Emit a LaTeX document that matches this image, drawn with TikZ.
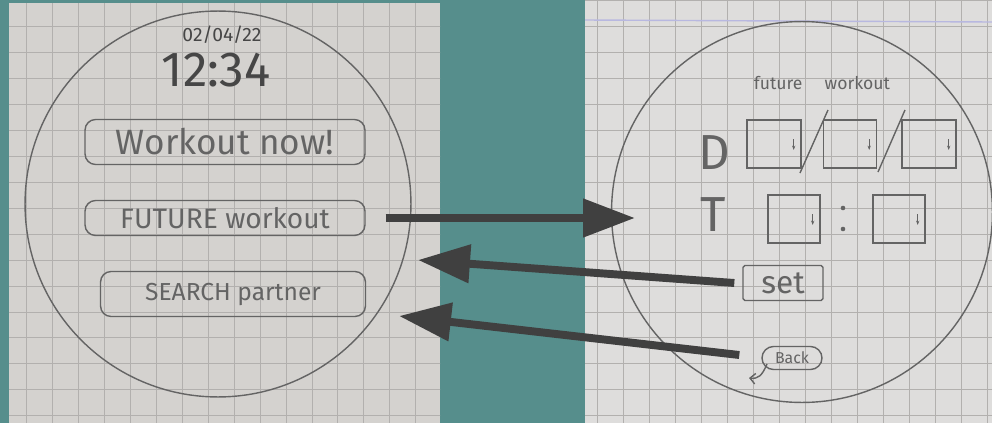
\documentclass[tikz,border=0pt]{standalone}
\usepackage{fontspec}
\setmainfont{Fira Sans}
\usetikzlibrary{arrows.meta, positioning, shapes.geometric}
\definecolor{tealbg}{RGB}{86, 142, 140}
\definecolor{paperleft}{RGB}{212, 210, 207}
\definecolor{paperright}{RGB}{222, 221, 220}
\definecolor{gridgray}{RGB}{178, 176, 174}
\definecolor{pencilgray}{RGB}{100, 100, 100}
\definecolor{inkgray}{RGB}{70, 70, 70}
\definecolor{arrowgray}{RGB}{64, 64, 64}

\begin{document}
\begin{tikzpicture}[x=0.02cm, y=-0.02cm,
  sketch/.style={draw=pencilgray, line width=0.8pt},
  btn/.style={sketch, rounded corners=6pt, text=pencilgray, inner sep=0pt},
  field/.style={sketch, minimum width=1.08cm, minimum height=0.96cm, inner sep=0pt},
  flow/.style={draw=arrowgray, line width=4.5pt, -{Triangle[length=1.04cm, width=0.74cm]}}]

  % 背景
  \useasboundingbox (0,0) rectangle (992,423);
  \fill[tealbg] (0,0) rectangle (992,423);

  % 两张方格纸
  \fill[paperleft] (9,3) rectangle (440,423);
  \fill[paperright] (585,0) rectangle (992,423);
  \begin{scope}
    \clip (9,3) rectangle (440,423);
    \draw[gridgray, line width=0.5pt, step=0.52cm] (0,0) grid (450,430);
  \end{scope}
  \begin{scope}
    \clip (585,0) rectangle (992,423);
    \draw[gridgray, line width=0.5pt, step=0.52cm] (580,0) grid (1000,430);
    \draw[gray!60!blue!40, line width=0.8pt] (585,20) -- (992,22);
  \end{scope}

  % 左侧表盘：主页
  \draw[sketch] (218,204) circle[radius=3.86cm];
  \node[text=inkgray, inner sep=1pt, font=\fontsize{11}{13}\selectfont] (date) at (222,35) {02/04/22};
  \node[text=inkgray, inner sep=1pt, font=\fontsize{28}{32}\selectfont] (clock) at (216,70) {12:34};
  \node[btn, minimum width=5.6cm, minimum height=0.9cm, font=\fontsize{20}{24}\selectfont]
    (nowbtn) at (225,142) {Workout now!};
  \node[btn, minimum width=5.6cm, minimum height=0.7cm, font=\fontsize{16}{19}\selectfont]
    (futbtn) at (225,218) {FUTURE workout};
  \node[btn, minimum width=5.3cm, minimum height=0.9cm, font=\fontsize{14}{17}\selectfont]
    (searchbtn) at (233,294) {SEARCH partner};

  % 右侧表盘：预约训练
  \draw[sketch] (802,212) circle[radius=3.81cm];
  \node[text=pencilgray, font=\fontsize{10}{12}\selectfont] (title) at (822,83) {future\quad\ workout};

  \node[text=pencilgray, font=\fontsize{28}{32}\selectfont] (dlabel) at (714,153) {D};
  \node[field] (day) at (774,144) {};
  \node[field, minimum width=1.06cm] (month) at (850,144) {};
  \node[field] (year) at (929,144) {};
  \draw[sketch] (800,173) -- (828,110);
  \draw[sketch] (878,172) -- (905,110);

  \node[text=pencilgray, font=\fontsize{28}{32}\selectfont] (tlabel) at (713,215) {T};
  \node[field, minimum width=1.04cm] (hour) at (794,219) {};
  \node[field, minimum width=1.04cm] (minute) at (899,219) {};
  \fill[pencilgray] (843,208) circle (1.3pt) (843,229) circle (1.3pt);

  % 下拉标记
  \foreach \f in {day, month, year, hour, minute}
    \draw[sketch, -{Stealth[length=2.5pt]}] ([xshift=-0.16cm, yshift=0.1cm]\f.east) -- ++(0,-0.22cm);

  \node[btn, rounded corners=1pt, minimum width=1.6cm, minimum height=0.7cm, font=\fontsize{18}{21}\selectfont]
    (setbtn) at (783,283) {set};
  \node[btn, rounded corners=0.23cm, minimum width=1.2cm, minimum height=0.46cm, font=\fontsize{9}{10}\selectfont]
    (backbtn) at (792,358) {Back};
  \draw[sketch, -{Straight Barb[length=3pt]}] (767,364) .. controls (762,376) and (758,379) .. (749,378);

  % 页面跳转箭头
  \coordinate (intoFuture) at (635,218);
  \coordinate (fromSet) at (418,260);
  \coordinate (fromBack) at (399,316);
  \draw[flow] ([xshift=0.4cm]futbtn.east) -- (intoFuture);
  \draw[flow] ([xshift=-0.16cm]setbtn.west) -- (fromSet);
  \draw[flow] ([xshift=-0.44cm, yshift=0.06cm]backbtn.west) -- (fromBack);

\end{tikzpicture}
\end{document}
